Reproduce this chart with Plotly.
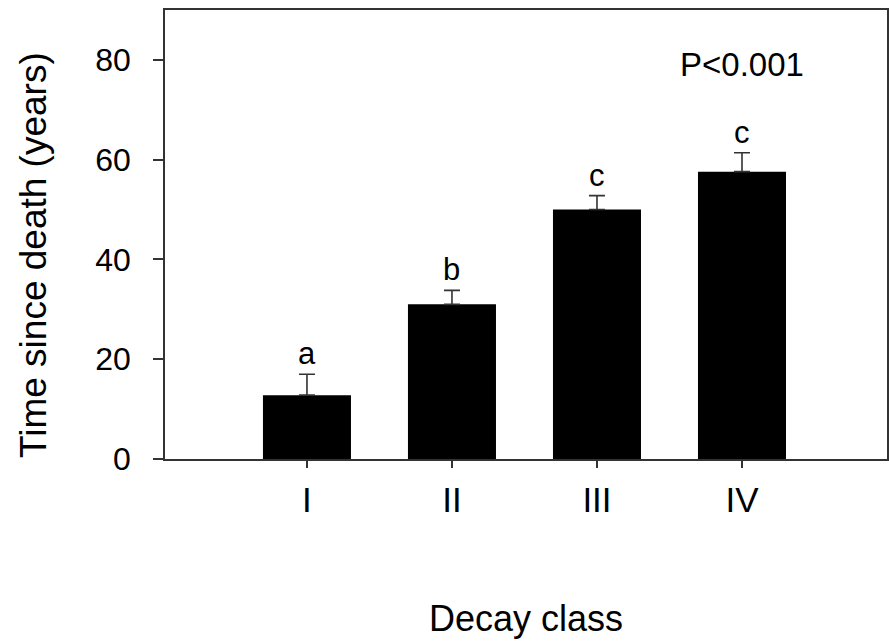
import plotly.graph_objects as go

categories = ["I", "II", "III", "IV"]
means = [12.8, 31.0, 50.0, 57.6]
errors = [4.2, 2.8, 2.8, 3.8]
letters = ["a", "b", "c", "c"]
y_ticks = [0, 20, 40, 60, 80]

FONT = "Liberation Sans, Arial, sans-serif"
AX = "#333333"
xpos = list(range(len(categories)))

fig = go.Figure()
fig.add_trace(go.Bar(
    x=xpos, y=means, width=0.607,
    marker=dict(color="black", line=dict(width=0)),
    error_y=dict(type="data", array=errors, arrayminus=[0] * len(errors),
                 symmetric=False, color=AX, thickness=1.6, width=8),
    showlegend=False,
))

for xi, m, e, l in zip(xpos, means, errors, letters):
    fig.add_annotation(x=xi, y=m + e, text=l, showarrow=False,
                       yanchor="bottom", yshift=1,
                       font=dict(family=FONT, size=31, color="black"))

fig.add_annotation(x=3, y=79, text="P<0.001", showarrow=False,
                   yanchor="middle", xanchor="center",
                   font=dict(family=FONT, size=33, color="black"))

# y-axis title
fig.add_annotation(xref="paper", yref="paper", x=-0.183, y=0.454,
                   text="Time since death (years)", textangle=-90,
                   showarrow=False, xanchor="center", yanchor="middle",
                   font=dict(family=FONT, size=37, color="black"))

fig.update_layout(
    width=889, height=643,
    margin=dict(l=165, r=2, t=10, b=184),
    paper_bgcolor="white", plot_bgcolor="white",
    font=dict(family=FONT, color="black"),
    xaxis=dict(
        range=[-0.979, 4.0], tickvals=xpos, ticktext=categories,
        showline=True, linecolor=AX, linewidth=1.5, mirror=True,
        ticks="outside", ticklen=7, tickwidth=1.5, tickcolor=AX,
        showgrid=False, zeroline=False, automargin=False,
        tickfont=dict(family=FONT, size=35, color="black"),
        ticklabelstandoff=2,
        title=dict(text="Decay class", font=dict(family=FONT, size=36, color="black"),
                   standoff=88),
    ),
    yaxis=dict(
        range=[0, 90], tickvals=y_ticks,
        showline=True, linecolor=AX, linewidth=1.5, mirror="ticks",
        ticks="outside", ticklen=10, tickwidth=1.5, tickcolor=AX,
        showgrid=False, zeroline=False, automargin=False,
        tickfont=dict(family=FONT, size=32, color="black"),
        ticklabelstandoff=16,
    ),
)

fig.write_html("out.html")
